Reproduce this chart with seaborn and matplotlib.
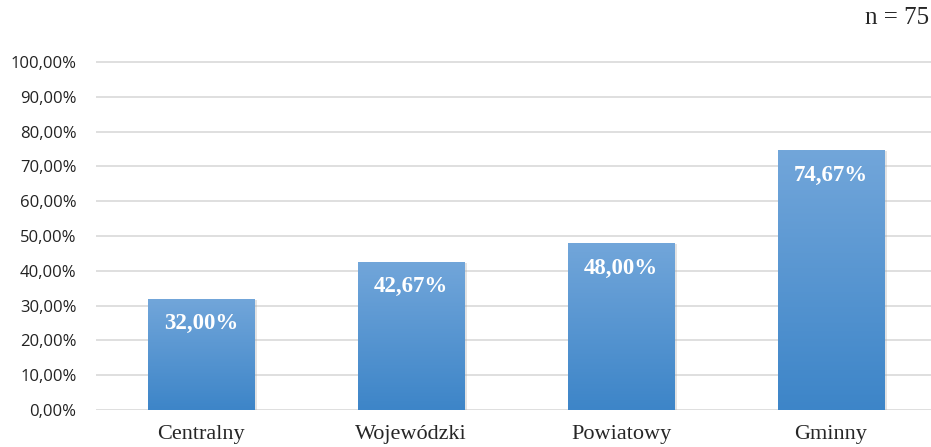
import matplotlib
matplotlib.use("Agg")
import matplotlib.pyplot as plt
import matplotlib.colors as mcolors
from matplotlib.ticker import FuncFormatter
import numpy as np
import pandas as pd
import seaborn as sns

# dane
kategorie = ["Centralny", "Wojewódzki", "Powiatowy", "Gminny"]
wartosci = [32.00, 42.67, 48.00, 74.67]
n_label = "n = 75"

df = pd.DataFrame({"poziom": kategorie, "proc": wartosci})

sns.set_style("white")
plt.rcParams["font.family"] = ["Open Sans", "DejaVu Sans"]

W, H = 931, 447
fig = plt.figure(figsize=(W / 100, H / 100), dpi=100, facecolor="w")
ymax = 102
px_per = 348 / 100.0
bottom = (H - 410) / H
height = (ymax * px_per) / H
ax = fig.add_axes([96 / W, bottom, 1 - 96 / W, height])

sns.barplot(data=df, x="poziom", y="proc", ax=ax, width=0.505,
            color="#5b97d3", saturation=1, edgecolor="none", zorder=2)

ax.set_xlim(-0.5, 3.5 - 5 / 210)
ax.set_ylim(0, ymax)

# gradient w slupkach
cmap = mcolors.LinearSegmentedColormap.from_list("g", ["#3d85c8", "#72a6da"])
grad = np.linspace(0, 1, 256).reshape(-1, 1)
for p in ax.patches:
    x0, y0 = p.get_x(), p.get_y()
    w, h = p.get_width(), p.get_height()
    # cien
    ax.add_patch(plt.Rectangle((x0 + 0.012, y0), w, h - 0.3, color="#b0b0b0",
                               alpha=0.35, zorder=1.5, lw=0))
    im = ax.imshow(grad, extent=[x0, x0 + w, y0, y0 + h], origin="lower",
                   aspect="auto", cmap=cmap, zorder=3)
    im.set_clip_path(p)

for i, v in enumerate(wartosci):
    ax.text(i, v - 7.2, f"{v:.2f}%".replace(".", ","), ha="center", va="center",
            color="white", fontsize=16.5, fontweight="bold",
            family="Liberation Serif", zorder=5)

ax.set_yticks(np.arange(0, 101, 10))
ax.yaxis.set_major_formatter(FuncFormatter(lambda v, _: f"{v:.2f}%".replace(".", ",")))
ax.grid(axis="y", color="#d9d9d9", lw=1.2, zorder=0)
ax.set_axisbelow(True)
for s in ax.spines.values():
    s.set_visible(False)
ax.set_xlabel("")
ax.set_ylabel("")
ax.tick_params(axis="y", labelsize=12, colors="#222222", pad=14, length=0)
ax.tick_params(axis="x", length=0, pad=11)
for t in ax.get_xticklabels():
    t.set_fontfamily("Liberation Serif")
    t.set_fontsize(16)

fig.text(929 / W, 1 - 18 / H, n_label, ha="right", va="center",
         fontsize=18, family="Liberation Serif")

fig.savefig("out.png", dpi=100)
